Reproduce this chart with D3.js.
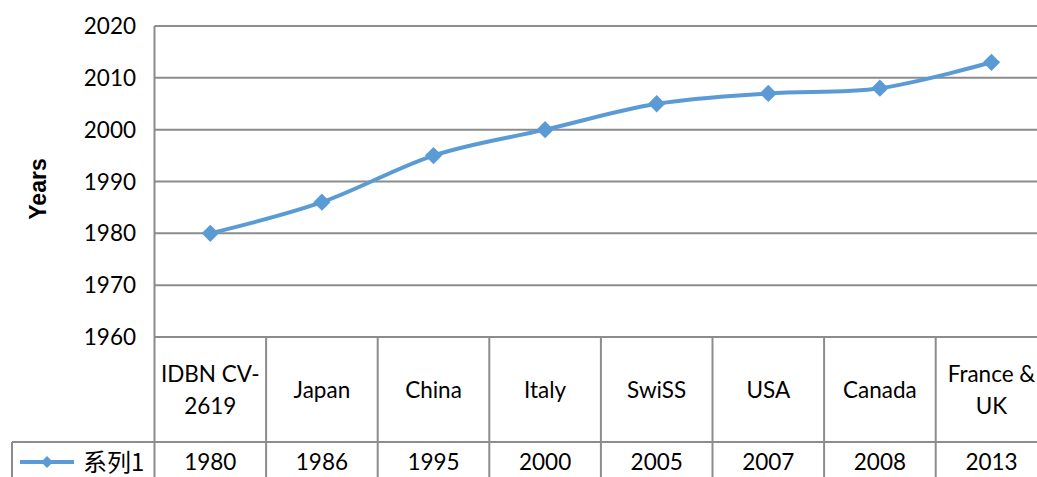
<!DOCTYPE html>
<html>
<head>
<meta charset="utf-8">
<script src="https://cdn.jsdelivr.net/npm/d3@7"></script>
<style>
  body { margin: 0; background: #fff; }
  text { font-family: Lato, "Open Sans", sans-serif; fill: #000; }
</style>
</head>
<body>
<div id="chart"></div>
<script>
// chart values
var categories = [["IDBN CV-", "2619"], ["Japan"], ["China"], ["Italy"], ["SwiSS"], ["USA"], ["Canada"], ["France &", "UK"]];
var years = [1980, 1986, 1995, 2000, 2005, 2007, 2008, 2013];
var yTicks = [1960, 1970, 1980, 1990, 2000, 2010, 2020];
var seriesName = "系列1";

var svgWidth = 1037;
var svgHeight = 477;

var plotLeft = 154.5, plotRight = 1047.3;
var plotTop = 26, plotBottom = 337;
var headerBottom = 442;
var tableLeft = 12;
var gridColor = "#8c8c8c";
var lineColor = "#5b9bd5";

var svg = d3.select("#chart")
    .append("svg")
    .attr("width", svgWidth)
    .attr("height", svgHeight);

var idx = categories.map((d, i) => i);

var xScale = d3.scaleBand()
    .domain(idx)
    .range([plotLeft, plotRight]);

var yScale = d3.scaleLinear()
    .domain([1960, 2020])
    .range([plotBottom, plotTop]);

// gridlines
svg.append("g")
    .selectAll("line")
    .data(yTicks)
    .enter()
    .append("line")
    .attr("x1", plotLeft)
    .attr("x2", plotRight)
    .attr("y1", d => yScale(d))
    .attr("y2", d => yScale(d))
    .attr("stroke", gridColor)
    .attr("stroke-width", 2);

// y tick labels
svg.append("g")
    .selectAll("text")
    .data(yTicks)
    .enter()
    .append("text")
    .attr("x", 136)
    .attr("y", d => yScale(d))
    .attr("dy", "0.36em")
    .attr("text-anchor", "end")
    .style("font-size", "22.5px")
    .text(d => d);

// axis title
svg.append("text")
    .attr("transform", "translate(46, 189) rotate(-90)")
    .attr("text-anchor", "middle")
    .style("font-family", "'Liberation Sans', Arial, sans-serif")
    .style("font-weight", "bold")
    .style("font-size", "23px")
    .text("Years");

// data table lines
var table = svg.append("g")
    .attr("stroke", gridColor)
    .attr("stroke-width", 2);

// vertical axis line
table.append("line")
    .attr("x1", plotLeft).attr("x2", plotLeft)
    .attr("y1", plotTop).attr("y2", svgHeight);

// column boundaries
table.selectAll(".col")
    .data(idx.slice(1))
    .enter()
    .append("line")
    .attr("class", "col")
    .attr("x1", d => xScale(d)).attr("x2", d => xScale(d))
    .attr("y1", plotBottom).attr("y2", svgHeight);

// row line under header
table.append("line")
    .attr("x1", tableLeft).attr("x2", plotRight)
    .attr("y1", headerBottom).attr("y2", headerBottom);

// legend cell left border
table.append("line")
    .attr("x1", tableLeft).attr("x2", tableLeft)
    .attr("y1", headerBottom).attr("y2", svgHeight);

// category labels
var catText = svg.append("g")
    .selectAll("text")
    .data(categories)
    .enter()
    .append("text")
    .attr("text-anchor", "middle")
    .style("font-size", "22.5px");

catText.each(function(lines, i) {
    var cy = (plotBottom + headerBottom) / 2;
    var lh = 32;
    var start = cy - (lines.length - 1) * lh / 2;
    d3.select(this).selectAll("tspan")
        .data(lines)
        .enter()
        .append("tspan")
        .attr("x", xScale(i) + xScale.bandwidth() / 2)
        .attr("y", (d, j) => start + j * lh)
        .attr("dy", "0.36em")
        .text(d => d);
});

// value row
svg.append("g")
    .selectAll("text")
    .data(years)
    .enter()
    .append("text")
    .attr("x", (d, i) => xScale(i) + xScale.bandwidth() / 2)
    .attr("y", 462)
    .attr("dy", "0.36em")
    .attr("text-anchor", "middle")
    .style("font-size", "22.5px")
    .text(d => d);

// legend key
svg.append("line")
    .attr("x1", 20).attr("x2", 74)
    .attr("y1", 462).attr("y2", 462)
    .attr("stroke", lineColor)
    .attr("stroke-width", 4);

svg.append("path")
    .attr("d", d3.symbol().type(d3.symbolDiamond2).size(90))
    .attr("transform", "translate(47, 462)")
    .attr("fill", lineColor);

svg.append("text")
    .attr("x", 83)
    .attr("y", 462)
    .attr("dy", "0.36em")
    .style("font-family", "'Noto Sans CJK SC', sans-serif")
    .style("font-size", "24px")
    .text(seriesName);

// series line
var line = d3.line()
    .x((d, i) => xScale(i) + xScale.bandwidth() / 2)
    .y(d => yScale(d))
    .curve(d3.curveCatmullRom.alpha(0));

svg.append("path")
    .datum(years)
    .attr("d", line)
    .attr("fill", "none")
    .attr("stroke", lineColor)
    .attr("stroke-width", 4);

svg.append("g")
    .selectAll("path")
    .data(years)
    .enter()
    .append("path")
    .attr("d", d3.symbol().type(d3.symbolDiamond2).size(190))
    .attr("transform", (d, i) => `translate(${xScale(i) + xScale.bandwidth() / 2}, ${yScale(d)})`)
    .attr("fill", lineColor);
</script>
</body>
</html>
